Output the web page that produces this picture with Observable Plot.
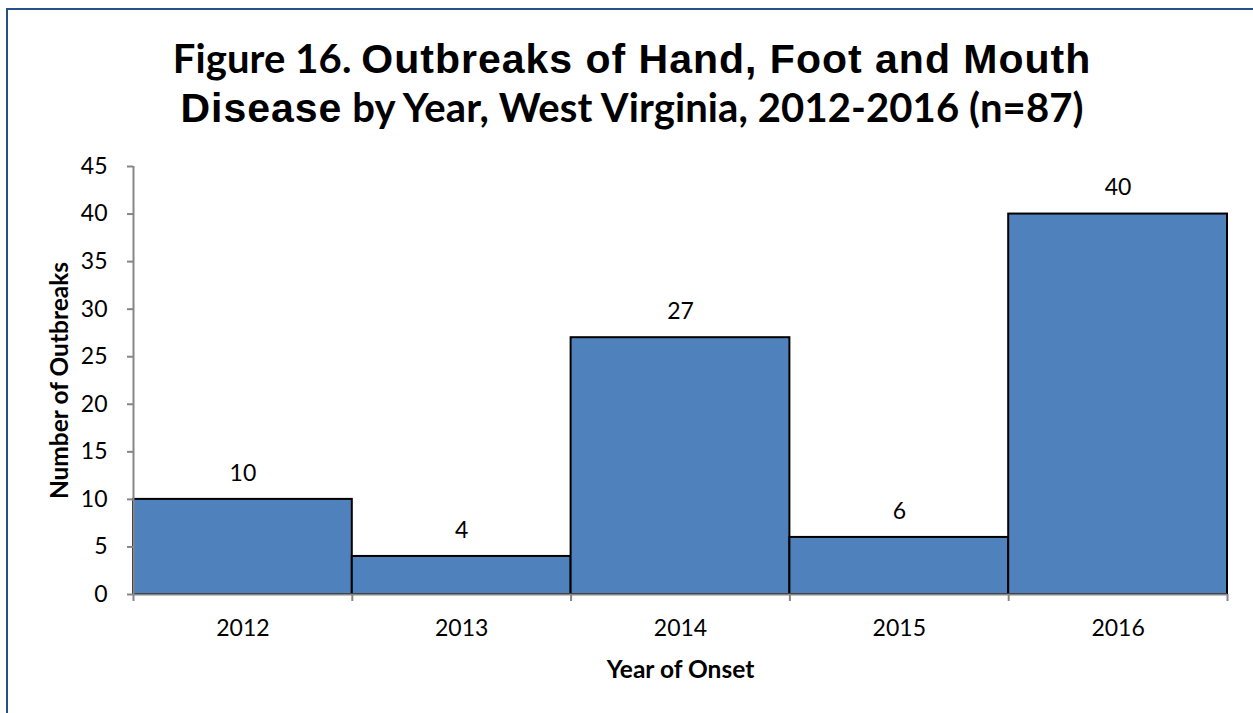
<!DOCTYPE html>
<html>
<head>
<meta charset="utf-8">
<script src="https://cdn.jsdelivr.net/npm/d3@7"></script>
<script src="https://cdn.jsdelivr.net/npm/@observablehq/plot@0.6"></script>
<style>
  html, body { margin: 0; padding: 0; background: #fff; }
  #wrap { position: relative; width: 1253px; height: 713px; overflow: hidden; }
  #frame { position: absolute; left: 6px; top: 8px; width: 1300px; height: 800px; border: 2.5px solid #25508a; box-sizing: border-box; pointer-events: none; }
  #title { position: relative; margin-left: 6px; width: 1252px; height: 150px; box-sizing: border-box; padding-top: 38px; text-align: center; color: #000; font-weight: bold; }
  .line { height: 49px; line-height: 49px; white-space: nowrap; }
  .c { font-family: Lato, "Open Sans", sans-serif; font-size: 40px; letter-spacing: 0.1px; line-height: 1; }
  .a { font-family: "Liberation Sans", Arial, sans-serif; font-size: 41px; letter-spacing: 1px; line-height: 1; }
  #chart { position: relative; }
</style>
</head>
<body>
<div id="wrap">
  <div id="title">
    <div class="line"><span class="c">Figure 16. </span><span class="a">Outbreaks of Hand, Foot and Mouth</span></div>
    <div class="line"><span class="a">Disease</span><span class="c"> by Year, West Virginia, 2012-2016 (n=87)</span></div>
  </div>
  <div id="chart"></div>
  <div id="frame"></div>
</div>
<script>
const years = [2012, 2013, 2014, 2015, 2016];
const counts = [10, 4, 27, 6, 40];
const yTicks = [0, 5, 10, 15, 20, 25, 30, 35, 40, 45];
const xLabel = "Year of Onset";
const yLabel = "Number of Outbreaks";

const data = years.map((year, i) => ({year, count: counts[i]}));
const boundaries = years.map(y => y - 0.5).concat([years[years.length - 1] + 0.5]);

const font = "Lato, 'Open Sans', sans-serif";

const chart = Plot.plot({
  width: 1253,
  height: 563,
  marginLeft: 133,
  marginRight: 26,
  marginTop: 16,
  marginBottom: 119,
  style: { fontFamily: font, fontSize: "23px", color: "#000", background: "transparent", overflow: "visible" },
  x: { domain: [years[0] - 0.5, years[years.length - 1] + 0.5], axis: null },
  y: { domain: [0, 45], axis: null },
  marks: [
    Plot.rectY(data, { x1: d => d.year - 0.5, x2: d => d.year + 0.5, y: "count", fill: "#4f81bd", stroke: "#000", strokeWidth: 2 }),
    Plot.ruleY([0], { stroke: "#868686", strokeWidth: 2 }),
    Plot.ruleX([years[0] - 0.5], { stroke: "#868686", strokeWidth: 2, y1: 0, y2: 45 }),
    Plot.text(data, { x: "year", y: "count", text: d => String(d.count), dy: -26, fontSize: 23, fill: "#000" }),
    Plot.axisY({ ticks: yTicks, tickSize: 6, tickPadding: 20, stroke: "#868686", strokeWidth: 2, fill: "#000", fontSize: 23, tickFormat: d => String(d), label: null }),
    Plot.axisX({ ticks: boundaries, tickSize: 7, stroke: "#868686", strokeWidth: 2, tickFormat: () => "", label: null }),
    Plot.axisX({ ticks: years, tickSize: 0, tickPadding: 25, fill: "#000", fontSize: 23, tickFormat: d => String(d), label: null }),
    Plot.text([yLabel], { frameAnchor: "left", dx: -73, rotate: -90, lineAnchor: "middle", textAnchor: "middle", fontWeight: "bold", fontSize: 24.5, fill: "#000" }),
    Plot.text([xLabel], { frameAnchor: "bottom", dy: 76, lineAnchor: "middle", textAnchor: "middle", fontWeight: "bold", fontSize: 24.5, fill: "#000" })
  ]
});
document.getElementById("chart").appendChild(chart);
</script>
</body>
</html>
